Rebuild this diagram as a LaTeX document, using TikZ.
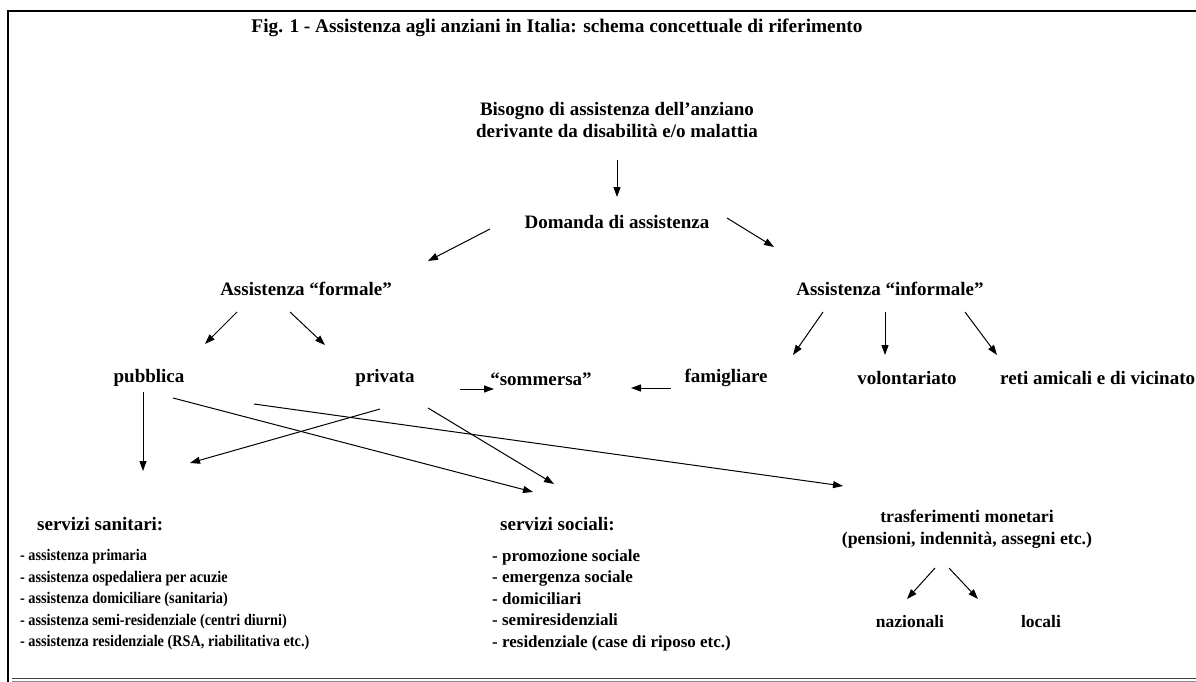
\documentclass[tikz,border=0pt]{standalone}
\usepackage{fontspec}
\setmainfont{Liberation Serif}
\newfontfamily\narrowserif[FakeStretch=0.88]{Liberation Serif}
\usetikzlibrary{arrows.meta}
\begin{document}
\begin{tikzpicture}[x=1pt,y=-1pt,
  lbl/.style={font=\fontsize{19}{21.5}\selectfont\bfseries, inner sep=0pt, align=center},
  lst/.style={font=\fontsize{17}{21.5}\selectfont\bfseries, inner sep=0pt, align=left, anchor=west},
  head/.style={font=\fontsize{19}{21}\selectfont\bfseries, inner sep=0pt, anchor=west},
  arr/.style={-{Triangle[length=10pt,width=7pt]}, line width=1pt},
  frame/.style={line width=2.4pt}]
\useasboundingbox (0,0) rectangle (1196,682);
% frame
\draw[frame] (8,682) -- (8,11) -- (1196,11);
\draw[line width=0.9pt, black!75] (12,678.5) -- (1196,678.5);
\draw[line width=0.9pt, black!45] (12,681) -- (1196,681);
% title
\node[lbl, font=\fontsize{19.3}{22}\selectfont\bfseries] (title) at (557,28) {Fig. 1 - Assistenza agli anziani in Italia: schema concettuale di riferimento};
% nodes
\node[lbl] (bis) at (617,120) {Bisogno di assistenza dell’anziano\\derivante da disabilità e/o malattia};
\node[lbl] (dom) at (617,222) {Domanda di assistenza};
\node[lbl] (form) at (306,289) {Assistenza “formale”};
\node[lbl] (inf) at (890,289) {Assistenza “informale”};
\node[lbl] (pub) at (149,378) {pubblica};
\node[lbl] (priv) at (385,378) {privata};
\node[lbl] (somm) at (541,379) {“sommersa”};
\node[lbl] (fam) at (726,378) {famigliare};
\node[lbl] (vol) at (907,378) {volontariato};
\node[lbl, anchor=west] (reti) at (1000,378) {reti amicali e di vicinato};
\node[head] (san) at (37,524) {servizi sanitari:};
\node[lst, font=\narrowserif\fontsize{16.2}{21.5}\selectfont\bfseries] (sanl) at (20,600) {- assistenza primaria\\- assistenza ospedaliera per acuzie\\- assistenza domiciliare (sanitaria)\\- assistenza semi-residenziale (centri diurni)\\- assistenza residenziale (RSA, riabilitativa etc.)};
\node[head] (soc) at (500,524) {servizi sociali:};
\node[lst] (socl) at (492,600) {- promozione sociale\\- emergenza sociale\\- domiciliari\\- semiresidenziali\\- residenziale (case di riposo etc.)};
\node[lbl, font=\fontsize{17.8}{22}\selectfont\bfseries] (tras) at (967,529) {trasferimenti monetari\\(pensioni, indennità, assegni etc.)};
\node[lbl, font=\fontsize{17.5}{22}\selectfont\bfseries] (naz) at (910,622) {nazionali};
\node[lbl, font=\fontsize{17.5}{22}\selectfont\bfseries] (loc) at (1041,622) {locali};
% arrow end points
\coordinate (a1s) at (617,160); \coordinate (a1e) at (617,197);
\coordinate (a2s) at (490,229); \coordinate (a2e) at (428,261);
\coordinate (a3s) at (727,218); \coordinate (a3e) at (774,247);
\coordinate (a4s) at (237,312); \coordinate (a4e) at (205,344);
\coordinate (a5s) at (290,312); \coordinate (a5e) at (325,345);
\coordinate (a6s) at (823,312); \coordinate (a6e) at (793,355);
\coordinate (a7s) at (885,312); \coordinate (a7e) at (885,355);
\coordinate (a8s) at (965,312); \coordinate (a8e) at (997,355);
\coordinate (a9s) at (460,389); \coordinate (a9e) at (494,389);
\coordinate (a10s) at (671,388); \coordinate (a10e) at (631,388);
\coordinate (a11s) at (143,392); \coordinate (a11e) at (143,471);
\coordinate (a12s) at (173,398); \coordinate (a12e) at (533,492);
\coordinate (a13s) at (254,404); \coordinate (a13e) at (843,486);
\coordinate (a14s) at (380,409); \coordinate (a14e) at (190,463);
\coordinate (a15s) at (428,408); \coordinate (a15e) at (554,484);
\coordinate (a16s) at (935,568); \coordinate (a16e) at (907,599);
\coordinate (a17s) at (949,568); \coordinate (a17e) at (978,599);
\foreach \i in {1,...,17} \draw[arr] (a\i s) -- (a\i e);
\end{tikzpicture}
\end{document}
